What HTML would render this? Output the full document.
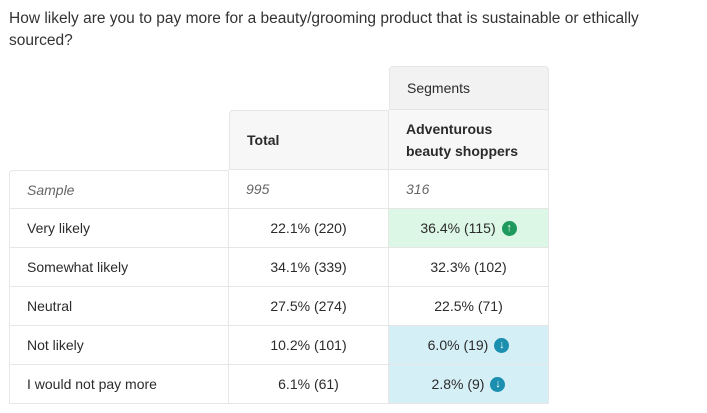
<!DOCTYPE html>
<html><head><style>
body{margin:0;width:707px;height:413px;background:#fff;font-family:"Liberation Sans",sans-serif;color:#2b2b2b;position:relative;overflow:hidden}
.t{position:absolute;left:9px;top:8px;width:690px;font-size:15.5px;line-height:22px;color:#333}
.c{position:absolute;box-sizing:border-box;font-size:14px;display:flex;align-items:center;border-right:1px solid #e6e6e6;border-bottom:1px solid #e6e6e6}
.l{padding-left:17px}
.ctr{justify-content:center}
.i{font-style:italic;color:#666}
.h{background:#f7f7f7;font-weight:bold;padding-left:17px;line-height:22px}
.ic{display:inline-block;width:15px;height:15px;border-radius:50%;color:#fff;font-size:11px;line-height:15px;text-align:center;margin-left:6px;font-weight:bold}
</style></head><body>
<div class="t">How likely are you to pay more for a beauty/grooming product that is sustainable or ethically sourced?</div>
<div class="c" style="left:389px;top:66px;width:160px;height:44px;background:#f2f2f2;padding-left:17px;border-top:1px solid #e6e6e6;border-left:1px solid #e6e6e6;border-radius:4px 4px 0 0">Segments</div>
<div class="c h" style="left:229px;top:110px;width:160px;height:60px;border-top:1px solid #e6e6e6;border-left:1px solid #e6e6e6;border-radius:4px 0 0 0">Total</div>
<div class="c h" style="left:389px;top:110px;width:160px;height:60px">Adventurous<br>beauty shoppers</div>

<div class="c l i" style="left:9px;top:170px;width:220px;height:39px;border-left:1px solid #e6e6e6;border-top:1px solid #e6e6e6;border-radius:4px 0 0 0">Sample</div>
<div class="c l i" style="left:229px;top:170px;width:160px;height:39px">995</div>
<div class="c l i" style="left:389px;top:170px;width:160px;height:39px">316</div>

<div class="c l" style="left:9px;top:209px;width:220px;height:39px;border-left:1px solid #e6e6e6">Very likely</div>
<div class="c ctr" style="left:229px;top:209px;width:160px;height:39px">22.1% (220)</div>
<div class="c ctr" style="left:389px;top:209px;width:160px;height:39px;background:#dcf7e6">36.4% (115)<span class="ic" style="background:#1e9a5e">↑</span></div>

<div class="c l" style="left:9px;top:248px;width:220px;height:39px;border-left:1px solid #e6e6e6">Somewhat likely</div>
<div class="c ctr" style="left:229px;top:248px;width:160px;height:39px">34.1% (339)</div>
<div class="c ctr" style="left:389px;top:248px;width:160px;height:39px">32.3% (102)</div>

<div class="c l" style="left:9px;top:287px;width:220px;height:39px;border-left:1px solid #e6e6e6">Neutral</div>
<div class="c ctr" style="left:229px;top:287px;width:160px;height:39px">27.5% (274)</div>
<div class="c ctr" style="left:389px;top:287px;width:160px;height:39px">22.5% (71)</div>

<div class="c l" style="left:9px;top:326px;width:220px;height:39px;border-left:1px solid #e6e6e6">Not likely</div>
<div class="c ctr" style="left:229px;top:326px;width:160px;height:39px">10.2% (101)</div>
<div class="c ctr" style="left:389px;top:326px;width:160px;height:39px;background:#d5eff6">6.0% (19)<span class="ic" style="background:#1a8fb0">↓</span></div>

<div class="c l" style="left:9px;top:365px;width:220px;height:39px;border-left:1px solid #e6e6e6">I would not pay more</div>
<div class="c ctr" style="left:229px;top:365px;width:160px;height:39px">6.1% (61)</div>
<div class="c ctr" style="left:389px;top:365px;width:160px;height:39px;background:#d5eff6">2.8% (9)<span class="ic" style="background:#1a8fb0">↓</span></div>
</body></html>
